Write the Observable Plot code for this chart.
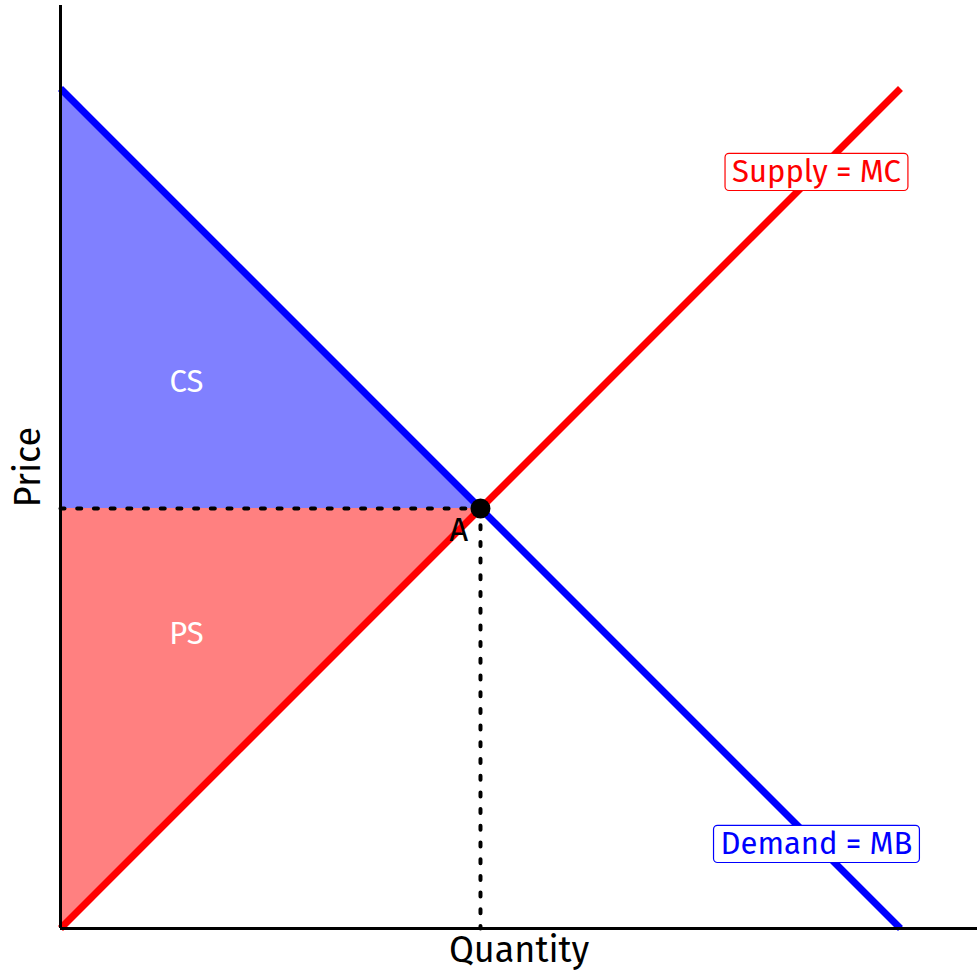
<!DOCTYPE html>
<html>
<head>
<meta charset="utf-8">
<script src="https://cdn.jsdelivr.net/npm/d3@7"></script>
<script src="https://cdn.jsdelivr.net/npm/@observablehq/plot@0.6"></script>
<style>
  html, body { margin: 0; padding: 0; background: #fff; }
  #chart svg { display: block; }
</style>
</head>
<body>
<div id="chart"></div>
<script>
// Curves (endpoints)
const demand = [{q: 0, p: 10}, {q: 10, p: 0}];
const supply = [{q: 0, p: 0}, {q: 10, p: 10}];
const equilibrium = [{q: 5, p: 5}];
// Surplus areas: band between lower and upper price at each quantity
const consumerSurplus = [{q: 0, lo: 5, hi: 10}, {q: 5, lo: 5, hi: 5}];
const producerSurplus = [{q: 0, lo: 0, hi: 5}, {q: 5, lo: 5, hi: 5}];
// Dotted guides from the equilibrium to the axes
const priceGuide = [{q: 0, p: 5}, {q: 5, p: 5}];
const quantityGuide = [{q: 5, p: 5}, {q: 5, p: 0}];
// Labels
const areaLabels = [{q: 1.5, p: 6.5, text: "CS"}, {q: 1.5, p: 3.5, text: "PS"}];
const pointLabels = [{q: 4.74, p: 4.74, text: "A"}];
const curveLabels = [
  {q: 9, p: 9, text: "Supply = MC", color: "#FF0000"},
  {q: 9, p: 1, text: "Demand = MB", color: "#0000FF"}
];
const xTitle = "Quantity";
const yTitle = "Price";

const font = "'Fira Sans', 'Noto Sans', sans-serif";
const dotted = {stroke: "black", strokeWidth: 4, strokeDasharray: "4,12.7"};
const labelSize = 31;

const chart = Plot.plot({
  width: 977,
  height: 973,
  marginLeft: 60,
  marginRight: 0,
  marginTop: 5,
  marginBottom: 45,
  style: {fontFamily: font, background: "white"},
  x: {domain: [0, 10.917], axis: null},
  y: {domain: [0, 10.988], axis: null},
  marks: [
    Plot.areaY(consumerSurplus, {x: "q", y1: "lo", y2: "hi", fill: "#8080FF"}),
    Plot.areaY(producerSurplus, {x: "q", y1: "lo", y2: "hi", fill: "#FF8080"}),
    Plot.line(priceGuide, {x: "q", y: "p", ...dotted}),
    Plot.line(quantityGuide, {x: "q", y: "p", ...dotted}),
    Plot.line(supply, {x: "q", y: "p", stroke: "#FF0000", strokeWidth: 7, strokeLinecap: "butt"}),
    Plot.line(demand, {x: "q", y: "p", stroke: "#0000FF", strokeWidth: 7, strokeLinecap: "butt"}),
    Plot.ruleX([0], {stroke: "black", strokeWidth: 3}),
    Plot.ruleY([0], {stroke: "black", strokeWidth: 3}),
    Plot.dot(equilibrium, {x: "q", y: "p", r: 10, fill: "black"}),
    Plot.text(areaLabels, {x: "q", y: "p", text: "text", fill: "white", fontSize: 31}),
    Plot.text(pointLabels, {x: "q", y: "p", text: "text", fill: "black", fontSize: 33}),
    Plot.text(curveLabels, {x: "q", y: "p", text: "text", fill: "color", fontSize: labelSize, className: "boxed"}),
    Plot.text([xTitle], {frameAnchor: "bottom", textAnchor: "middle", lineAnchor: "middle", dy: 22, fontSize: 36, fill: "black"}),
    Plot.text([yTitle], {frameAnchor: "left", textAnchor: "middle", lineAnchor: "middle", dx: -32, rotate: -90, fontSize: 36, fill: "black"})
  ]
});

document.getElementById("chart").appendChild(chart);

// Draw a rounded box behind each curve label, sized from the rendered text
d3.select(chart).selectAll("g.boxed text").each(function () {
  const bb = this.getBBox();
  const fill = this.getAttribute("fill");
  const padX = 7;
  const h = labelSize * 1.2;
  const cy = bb.y + bb.height / 2;
  const g = this.parentNode;
  const r = document.createElementNS("http://www.w3.org/2000/svg", "rect");
  const tr = this.getAttribute("transform");
  if (tr) r.setAttribute("transform", tr);
  r.setAttribute("x", bb.x - padX);
  r.setAttribute("y", cy - h / 2);
  r.setAttribute("width", bb.width + 2 * padX);
  r.setAttribute("height", h);
  r.setAttribute("rx", 4);
  r.setAttribute("fill", "white");
  r.setAttribute("stroke", fill);
  r.setAttribute("stroke-width", 1.2);
  g.insertBefore(r, this);
});
</script>
</body>
</html>
